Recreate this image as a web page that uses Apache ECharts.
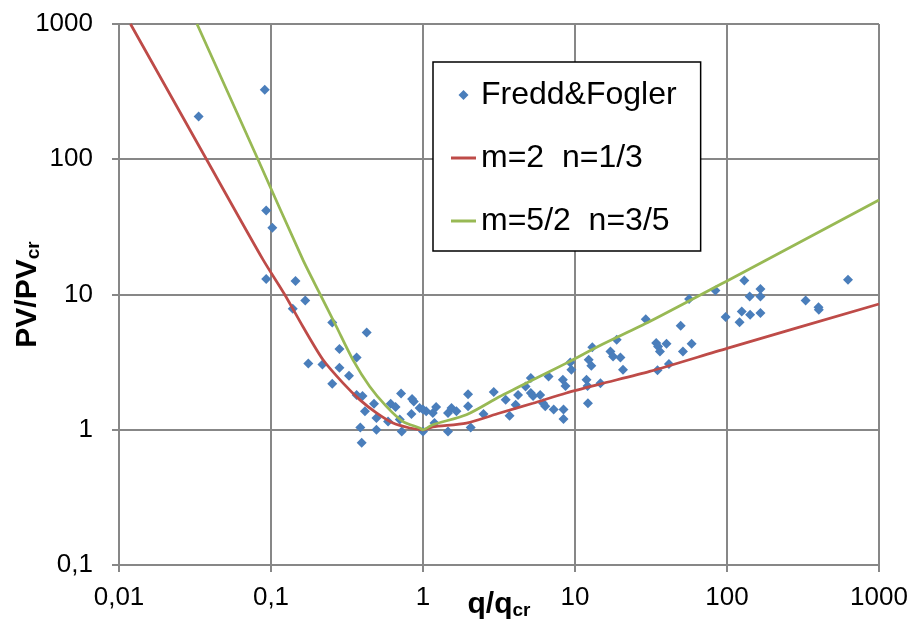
<!DOCTYPE html>
<html lang="en">
<head>
    <meta charset="UTF-8">
    <title>PV/PVcr vs q/qcr</title>
    <script src="https://cdn.jsdelivr.net/npm/echarts@6/dist/echarts.min.js"></script>
    <style>
        html, body { margin: 0; padding: 0; background: #fff; }
        #main { width: 914px; height: 634px; }
    </style>
</head>
<body>
<div id="main"></div>
<script type="text/javascript">
    // tick labels (decimal comma, as in the original)
    var xTickLabels = ['0,01', '0,1', '1', '10', '100', '1000'];
    var yTickLabels = ['0,1', '1', '10', '100', '1000'];

    // Fredd&Fogler measurements: q/qcr and PV/PVcr
    var ffQ = [0.0334, 0.091, 0.093, 0.102, 0.093, 0.145, 0.168, 0.139, 0.253, 0.426,
        0.176, 0.218, 0.282, 0.366, 0.282, 0.326, 0.253, 0.366, 0.40, 0.717,
        0.847, 0.476, 0.613, 0.66, 0.415, 0.494, 0.703, 0.839, 0.95, 1.05,
        0.387, 0.494, 0.725, 1.0, 0.395, 0.589, 0.87, 1.0, 1.16, 1.22,
        1.19, 1.46, 1.46, 1.54, 1.66, 1.98, 1.98, 2.06, 2.5, 2.92,
        3.5, 3.71, 4.07, 4.22, 4.73, 5.12, 5.12, 5.3, 5.9, 6.17,
        6.37, 6.7, 7.24, 8.32, 8.66, 8.4, 8.4, 9.31, 9.47, 12.17,
        11.9, 12.1, 12.3, 12.8, 13.0, 14.7, 17.1, 17.8, 18.8, 19.9,
        20.7, 29.2, 34.2, 35.2, 36.2, 40.0, 34.9, 41.5, 49.6, 51.3,
        58.5, 56.3, 83.9, 97.9, 130, 141, 166, 166, 125, 121,
        142, 166, 329, 400, 402, 625];
    var ffPV = [207, 326, 41.8, 31.1, 13.0, 12.6, 9.03, 7.84, 6.21, 5.24,
        3.09, 3.04, 3.95, 3.42, 2.87, 2.51, 2.19, 1.81, 1.78, 1.85,
        1.69, 1.56, 1.56, 1.47, 1.37, 1.22, 1.19, 1.31, 1.45, 1.37,
        1.04, 1.0, 0.97, 0.97, 0.80, 1.15, 1.62, 1.41, 1.33, 1.47,
        1.12, 0.97, 1.33, 1.45, 1.37, 1.83, 1.49, 1.04, 1.31, 1.90,
        1.67, 1.27, 1.53, 1.81, 2.09, 2.41, 1.87, 1.78, 1.81, 1.57,
        1.49, 2.48, 1.41, 2.34, 2.11, 1.41, 1.2, 3.14, 2.78, 1.57,
        2.34, 2.11, 3.29, 2.97, 4.08, 2.21, 3.79, 3.48, 4.63, 3.42,
        2.78, 6.57, 4.38, 4.13, 3.79, 4.32, 2.75, 3.06, 5.87, 3.79,
        4.32, 9.26, 10.7, 6.81, 12.7, 9.68, 10.96, 9.68, 7.5, 6.24,
        7.08, 7.3, 9.03, 8.06, 7.7, 12.84];

    // model curve m=2 n=1/3
    var redQ = [0.0119, 0.0376, 0.0886, 0.123, 0.162, 0.220, 0.298, 0.383, 0.494, 0.635,
        0.818, 1.0, 1.16, 1.93, 3.20, 5.29, 8.78, 14.5, 31.0, 100, 1000];
    var redPV = [1000, 100, 18.1, 10, 5.80, 3.29, 2.21, 1.67, 1.33, 1.12,
        1.03, 1.0, 1.05, 1.12, 1.33, 1.57, 1.87, 2.17, 2.70, 4.0, 8.5];

    // model curve m=5/2 n=3/5
    var greenQ = [0.0326, 0.082, 0.162, 0.209, 0.269, 0.346, 0.446, 0.574, 0.739, 0.951,
        1.0, 1.16, 1.93, 3.20, 5.29, 8.78, 14.5, 31.0, 100, 1000];
    var greenPV = [1000, 100, 18.1, 10.2, 5.80, 3.29, 2.09, 1.49, 1.15, 1.03,
        1.0, 1.09, 1.29, 1.76, 2.34, 3.11, 4.18, 6.31, 12.6, 50];

    function pairs(xs, ys) {
        var out = [];
        for (var i = 0; i < xs.length; i++) {
            out.push([xs[i], ys[i]]);
        }
        return out;
    }

    var gridColor = '#878787';
    var fontName = 'Liberation Sans, Arial, sans-serif';
    // legend icons: short thick bar for the curves, small diamond for the points
    var lineIcon = 'path://M0 0H25V3H0Z';
    var diamondIcon = 'path://M5 0L10 5L5 10L0 5Z';

    var myChart = echarts.init(document.getElementById('main'));
    var option = {
        animation: false,
        backgroundColor: '#fff',
        grid: {
            left: 119,
            right: 35,
            top: 24,
            bottom: 69,
            containLabel: false,
            outerBoundsMode: 'none'
        },
        legend: {
            orient: 'vertical',
            left: 433,
            top: 62,
            padding: [17, 24, 14, 18],
            itemGap: 31,
            itemWidth: 25,
            itemHeight: 10,
            backgroundColor: '#fff',
            borderColor: '#000',
            borderWidth: 1.5,
            textStyle: {
                fontFamily: fontName,
                fontSize: 32,
                lineHeight: 32,
                color: '#000'
            },
            data: [
                {name: 'Fredd&Fogler', icon: diamondIcon},
                {name: 'm=2  n=1/3', icon: lineIcon},
                {name: 'm=5/2  n=3/5', icon: lineIcon}
            ]
        },
        xAxis: {
            type: 'log',
            logBase: 10,
            min: 0.01,
            max: 1000,
            name: '{b|q/q}{s|cr}',
            nameLocation: 'middle',
            nameGap: 25,
            nameMoveOverlap: false,
            nameTextStyle: {
                rich: {
                    b: {fontFamily: fontName, fontWeight: 'bold', fontSize: 30, lineHeight: 30, color: '#000'},
                    s: {fontFamily: fontName, fontWeight: 'bold', fontSize: 19, lineHeight: 18, color: '#000', verticalAlign: 'bottom'}
                }
            },
            axisLine: {show: true, lineStyle: {color: gridColor, width: 2}},
            axisTick: {show: true, inside: false, length: 7, lineStyle: {color: gridColor, width: 2}},
            minorTick: {show: false},
            splitLine: {show: true, lineStyle: {color: gridColor, width: 2}},
            axisLabel: {
                margin: 20,
                fontFamily: fontName,
                fontSize: 26,
                color: '#000',
                formatter: function (v, i) { return xTickLabels[i]; }
            }
        },
        yAxis: {
            type: 'log',
            logBase: 10,
            min: 0.1,
            max: 1000,
            name: '{b|PV/PV}{s|cr}',
            nameLocation: 'middle',
            nameGap: 76,
            nameMoveOverlap: false,
            nameTextStyle: {
                rich: {
                    b: {fontFamily: fontName, fontWeight: 'bold', fontSize: 30, lineHeight: 30, color: '#000'},
                    s: {fontFamily: fontName, fontWeight: 'bold', fontSize: 19, lineHeight: 18, color: '#000', verticalAlign: 'bottom'}
                }
            },
            axisLine: {show: true, lineStyle: {color: gridColor, width: 2}},
            axisTick: {show: true, inside: false, length: 7, lineStyle: {color: gridColor, width: 2}},
            minorTick: {show: false},
            splitLine: {show: true, lineStyle: {color: gridColor, width: 2}},
            axisLabel: {
                margin: 26,
                fontFamily: fontName,
                fontSize: 26,
                color: '#000',
                formatter: function (v, i) { return yTickLabels[i]; }
            }
        },
        series: [
            {
                name: 'Fredd&Fogler',
                type: 'scatter',
                symbol: 'diamond',
                symbolSize: 10,
                itemStyle: {color: '#4a7ebb', opacity: 1},
                data: pairs(ffQ, ffPV)
            },
            {
                name: 'm=2  n=1/3',
                type: 'line',
                symbol: 'none',
                smooth: 0.25,
                lineStyle: {color: '#be4b48', width: 2.75},
                itemStyle: {color: '#be4b48'},
                data: pairs(redQ, redPV)
            },
            {
                name: 'm=5/2  n=3/5',
                type: 'line',
                symbol: 'none',
                smooth: 0.25,
                lineStyle: {color: '#98b954', width: 2.75},
                itemStyle: {color: '#98b954'},
                data: pairs(greenQ, greenPV)
            }
        ]
    };
    myChart.setOption(option);
</script>
</body>
</html>
